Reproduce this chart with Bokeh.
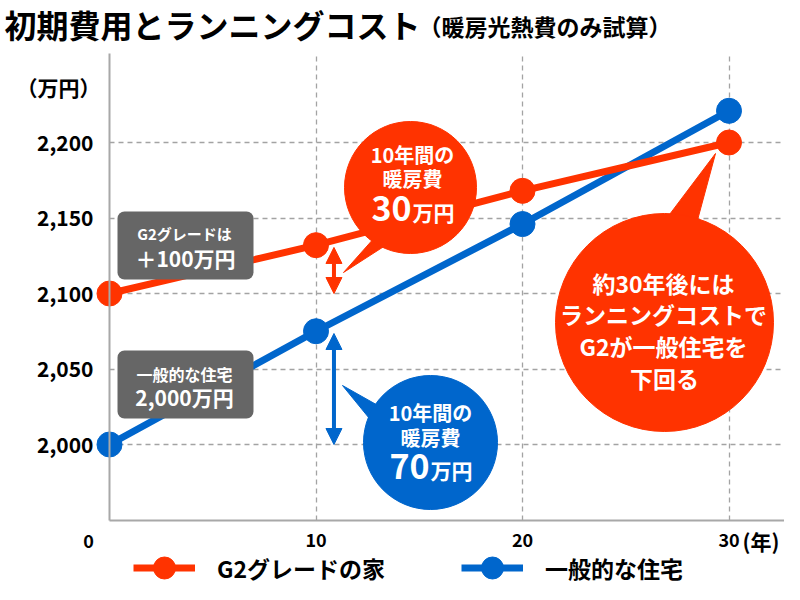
from bokeh.plotting import figure
from bokeh.models import (Range1d, FixedTicker, Label, BoxAnnotation, Arrow,
                          NormalHead, Legend, LegendItem)
from bokeh.embed import file_html
from bokeh.resources import INLINE

# ---------------- data ----------------
years = [0, 10, 20, 30]
g2_cost = [2100, 2132, 2168, 2200]        # G2グレードの家 (万円)
general_cost = [2000, 2075, 2146, 2221]   # 一般的な住宅 (万円)
series_names = ["G2グレードの家", "一般的な住宅"]
x_ticks = [0, 10, 20, 30]
x_tick_labels = ["0", "10", "20", "30"]
y_ticks = [2000, 2050, 2100, 2150, 2200]
y_tick_labels = ["2,000", "2,050", "2,100", "2,150", "2,200"]

# ---------------- styles ----------------
ORANGE = "#FF3300"
BLUE = "#0066CC"
BOX_GRAY = "#666666"
GRID_GRAY = "#A3A3A3"
AXIS_GRAY = "#A8A8A8"
FONT = "Noto Sans CJK JP"

# pixel geometry of the reference -> data units
X0_PX, X_PX_PER = 109.0, 20.65
Y0_PX, Y_PX_PER = 444.0, 1.51


def X(px):
    return (px - X0_PX) / X_PX_PER


def Y(py):
    return 2000 + (Y0_PX - py) / Y_PX_PER


W, H = 784, 584
PLOT_TOP, PLOT_BOTTOM, PLOT_RIGHT = 53, 520, 784

p = figure(width=W, height=H, title=None,
           x_range=Range1d(X(0), X(W)), y_range=Range1d(Y(H), Y(0)),
           output_backend="svg", toolbar_location=None,
           min_border=0, min_border_left=0, min_border_right=0,
           min_border_top=0, min_border_bottom=0)
p.outline_line_color = None
p.background_fill_color = "white"
p.border_fill_color = "white"

# ---------------- axes ----------------
xa = p.xaxis[0]
xa.fixed_location = Y(PLOT_BOTTOM)
xa.ticker = FixedTicker(ticks=x_ticks)
xa.major_label_overrides = {t: ("" if t == 0 else l) for t, l in zip(x_ticks, x_tick_labels)}
xa.bounds = (0, X(PLOT_RIGHT))
xa.axis_line_color = AXIS_GRAY
xa.axis_line_width = 2
xa.major_tick_line_color = None
xa.minor_tick_line_color = None
xa.major_tick_out = 0
xa.major_tick_in = 0
xa.minor_tick_out = 0
xa.major_label_standoff = 12
xa.major_label_text_font = FONT
xa.major_label_text_font_style = "bold"
xa.major_label_text_font_size = "18px"
xa.major_label_text_color = "black"

ya = p.yaxis[0]
ya.fixed_location = 0
ya.ticker = FixedTicker(ticks=y_ticks)
ya.major_label_overrides = dict(zip(y_ticks, y_tick_labels))
ya.bounds = (Y(PLOT_BOTTOM), Y(PLOT_TOP))
ya.axis_line_color = AXIS_GRAY
ya.axis_line_width = 2
ya.major_tick_line_color = None
ya.minor_tick_line_color = None
ya.major_tick_out = 0
ya.major_tick_in = 0
ya.minor_tick_out = 0
ya.major_label_standoff = 16
ya.major_label_text_font = FONT
ya.major_label_text_font_style = "bold"
ya.major_label_text_font_size = "21px"
ya.major_label_text_color = "black"

# ---------------- grids ----------------
xg = p.xgrid[0]
xg.ticker = FixedTicker(ticks=x_ticks[1:])
xg.grid_line_color = GRID_GRAY
xg.grid_line_dash = "5 4"
xg.grid_line_width = 1.3
yg = p.ygrid[0]
yg.ticker = FixedTicker(ticks=y_ticks)
yg.grid_line_color = GRID_GRAY
yg.grid_line_dash = "5 4"
yg.grid_line_width = 1.3
if "cross_bounds" in yg.properties():
    xg.cross_bounds = (Y(PLOT_BOTTOM), Y(PLOT_TOP))
    yg.cross_bounds = (0, X(782))

# ---------------- series ----------------
r_bl = p.line(years, general_cost, line_color=BLUE, line_width=7)
r_ol = p.line(years, g2_cost, line_color=ORANGE, line_width=7)
r_bs = p.scatter(years, general_cost, size=25, fill_color=BLUE, line_color=BLUE)
r_os = p.scatter(years, g2_cost, size=25, fill_color=ORANGE, line_color=ORANGE)

# ---------------- double arrows ----------------
arrow_dx = 0.87
for col, vals in ((ORANGE, g2_cost), (BLUE, general_cost)):
    hd = dict(size=16, fill_color=col, line_color=col)
    p.add_layout(Arrow(start=NormalHead(**hd), end=NormalHead(**hd),
                       x_start=years[1] + arrow_dx, y_start=vals[1] - 1.5,
                       x_end=years[1] + arrow_dx, y_end=vals[0],
                       line_color=col, line_width=4))

# ---------------- speech bubbles ----------------
# (center px, radius px, tail polygon px, color)
bubbles = [
    ((410, 187), 66, [(343, 272), (375, 236), (388, 243)], ORANGE),
    ((430, 442), 67, [(342, 385), (381, 407), (373, 423)], BLUE),
    ((664, 322), 109, [(715, 153), (663, 222), (695, 227)], ORANGE),
]
for (cx, cy), r, tail, col in bubbles:
    p.patch([X(a) for a, b in tail], [Y(b) for a, b in tail], fill_color=col, line_color=col)
    p.scatter([X(cx)], [Y(cy)], size=2 * r, fill_color=col, line_color=col)

# ---------------- gray boxes ----------------
for top, bottom in ((211, 279), (350, 418)):
    p.add_layout(BoxAnnotation(left=X(117), right=X(253), top=Y(top), bottom=Y(bottom),
                               fill_color=BOX_GRAY, fill_alpha=1, line_color=None,
                               border_radius=7, level="annotation"))


def lab(text, px, py, size, color="white", align="center", baseline="middle"):
    p.add_layout(Label(x=X(px), y=Y(py), text=text, text_font=FONT, text_font_style="bold",
                       text_font_size=f"{size}px", text_color=color, text_align=align,
                       text_baseline=baseline))


# box texts
lab("G2グレードは", 184, 233, 15)
lab("＋100万円", 185, 257, 21)
lab("一般的な住宅", 184, 373, 16)
lab("2,000万円", 184, 396, 21)

# small orange bubble
lab("10年間の", 412, 154, 20)
lab("暖房費", 412, 178, 20)
lab("30", 411, 208, 34, align="right")
lab("万円", 412, 211, 21, align="left")

# blue bubble
lab("10年間の", 430, 412, 20)
lab("暖房費", 430, 437, 20)
lab("70", 429, 466, 34, align="right")
lab("万円", 430, 469, 21, align="left")

# big bubble
lab("約30年後には", 663, 282, 23)
lab("ランニングコストで", 663, 313, 23)
lab("G2が一般住宅を", 663, 345, 23)
lab("下回る", 664, 377, 23)

# titles / axis units
lab("初期費用とランニングコスト", 4, 23, 32, color="black", align="left")
lab("（暖房光熱費のみ試算）", 418, 25, 23, color="black", align="left")
lab("（万円）", 58, 86, 21, color="black")
lab("(年)", 742, 540, 21, color="black", align="left")
lab(x_tick_labels[0], 88, 540, 18, color="black")

# ---------------- legend ----------------
legend = Legend(items=[LegendItem(label=series_names[0], renderers=[r_ol, r_os]),
                       LegendItem(label=series_names[1], renderers=[r_bl, r_bs])],
                orientation="horizontal", location=(133, -11),
                glyph_width=62, glyph_height=55,
                label_text_font=FONT, label_text_font_style="bold",
                label_text_font_size="23px", label_text_color="black",
                label_standoff=22, spacing=76, padding=0, margin=0,
                border_line_color=None, background_fill_alpha=0)
p.add_layout(legend, "center")

open("out.html", "w").write(file_html(p, INLINE))
